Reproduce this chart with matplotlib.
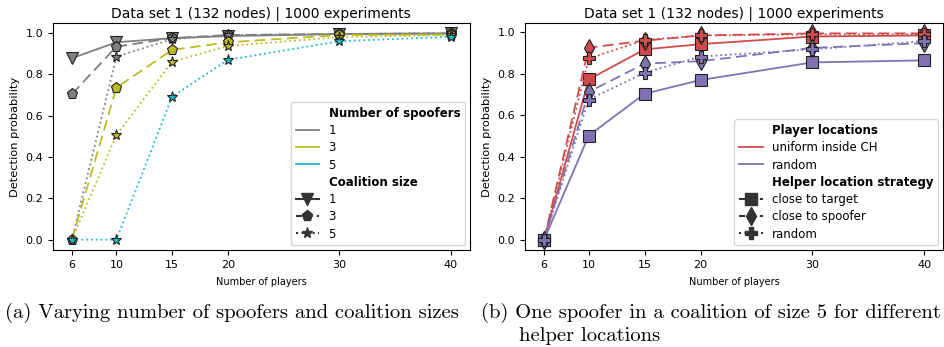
import numpy as np
import matplotlib
matplotlib.use("Agg")
import matplotlib.pyplot as plt
from matplotlib.lines import Line2D

players = [6, 10, 15, 20, 30, 40]

# left panel: (spoofers, coalition size) -> detection probability
sp1_c1 = [0.878, 0.955, 0.975, 0.985, 0.995, 0.998]
sp1_c3 = [0.704, 0.934, 0.975, 0.99, 0.995, 0.998]
sp1_c5 = [0.0, 0.886, 0.97, 0.99, 0.995, 0.998]
sp3_c3 = [0.0, 0.736, 0.918, 0.955, 0.99, 0.992]
sp3_c5 = [0.0, 0.507, 0.861, 0.937, 0.98, 0.99]
sp5_c5 = [0.0, 0.0, 0.692, 0.87, 0.96, 0.982]

# right panel: player location x helper strategy
uni_target = [0.0, 0.773, 0.918, 0.943, 0.98, 0.985]
uni_spoofer = [0.0, 0.926, 0.96, 0.985, 0.995, 0.995]
uni_random = [0.0, 0.874, 0.963, 0.985, 0.99, 0.99]
rnd_target = [0.0, 0.502, 0.704, 0.77, 0.855, 0.865]
rnd_spoofer = [0.0, 0.713, 0.849, 0.861, 0.925, 0.948]
rnd_random = [0.0, 0.676, 0.805, 0.883, 0.918, 0.958]

title = "Data set 1 (132 nodes) | 1000 experiments"
c_gray, c_olive, c_cyan = "#7f7f7f", "#bcbd22", "#17becf"
c_red, c_purple = "#cf4b4b", "#8172b2"
edge = "#222222"
ms = 8

fig = plt.figure(figsize=(9.45, 3.47), dpi=100)
ax1 = fig.add_axes([0.056, 0.2795, 0.441, 0.654])
ax2 = fig.add_axes([0.5556, 0.2795, 0.4423, 0.654])

def draw(ax, y, color, ls, marker, size=ms):
    ax.plot(players, y, color=color, linestyle=ls, marker=marker, markersize=size,
            markerfacecolor=color, markeredgecolor=edge, markeredgewidth=0.8, linewidth=1.3)

dash = (0, (6, 3))
draw(ax1, sp1_c1, c_gray, "-", "v")
draw(ax1, sp1_c3, c_gray, dash, "p")
draw(ax1, sp1_c5, c_gray, ":", "*")
draw(ax1, sp3_c3, c_olive, dash, "p")
draw(ax1, sp3_c5, c_olive, ":", "*")
draw(ax1, sp5_c5, c_cyan, ":", "*")

draw(ax2, uni_target, c_red, "-", "s")
draw(ax2, uni_spoofer, c_red, dash, "d", 9)
draw(ax2, uni_random, c_red, ":", "P", 9)
draw(ax2, rnd_target, c_purple, "-", "s")
draw(ax2, rnd_spoofer, c_purple, dash, "d", 9)
draw(ax2, rnd_random, c_purple, ":", "P", 9)

for ax in (ax1, ax2):
    ax.set_xticks(players)
    ax.set_yticks([0.0, 0.2, 0.4, 0.6, 0.8, 1.0])
    ax.tick_params(labelsize=8, length=3.5)
    ax.set_title(title, fontsize=10, pad=4)
    ax.set_ylabel("Detection probability", fontsize=8.2)
    ax.set_xlabel("Number of players", fontsize=7, labelpad=5)

blank = Line2D([], [], linestyle="none")
dark = "#333333"
h1 = [blank,
      Line2D([], [], color=c_gray, lw=1.3),
      Line2D([], [], color=c_olive, lw=1.3),
      Line2D([], [], color=c_cyan, lw=1.3),
      blank,
      Line2D([], [], color=dark, ls="-", marker="v", ms=ms),
      Line2D([], [], color=dark, ls=(0, (3, 2)), marker="p", ms=ms),
      Line2D([], [], color=dark, ls=":", marker="*", ms=ms)]
l1 = ["Number of spoofers", "1", "3", "5", "Coalition size", "1", "3", "5"]
leg1 = ax1.legend(h1, l1, loc="lower right", fontsize=8.5, handlelength=2.0,
                  labelspacing=0.36, borderaxespad=0.4)
for i in (0, 4):
    leg1.get_texts()[i].set_fontweight("bold")

h2 = [blank,
      Line2D([], [], color=c_red, lw=1.3),
      Line2D([], [], color=c_purple, lw=1.3),
      blank,
      Line2D([], [], color=dark, ls=(0, (3, 2)), marker="s", ms=ms),
      Line2D([], [], color=dark, ls=(0, (3, 2)), marker="d", ms=9),
      Line2D([], [], color=dark, ls=":", marker="P", ms=9)]
l2 = ["Player locations", "uniform inside CH", "random",
      "Helper location strategy", "close to target", "close to spoofer", "random"]
leg2 = ax2.legend(h2, l2, loc="lower right", fontsize=8.5, handlelength=2.0,
                  labelspacing=0.36, borderaxespad=0.4)
for i in (0, 3):
    leg2.get_texts()[i].set_fontweight("bold")

cap = dict(fontsize=14.8, family="cmr10", va="center", ha="left")
fig.text(0.005, 0.098, "(a) Varying number of spoofers and coalition sizes", **cap)
fig.text(0.509, 0.098, "(b) One spoofer in a coalition of size 5 for different", **cap)
fig.text(0.549, 0.032, "helper locations", **cap)

fig.savefig("out.png", dpi=100)
